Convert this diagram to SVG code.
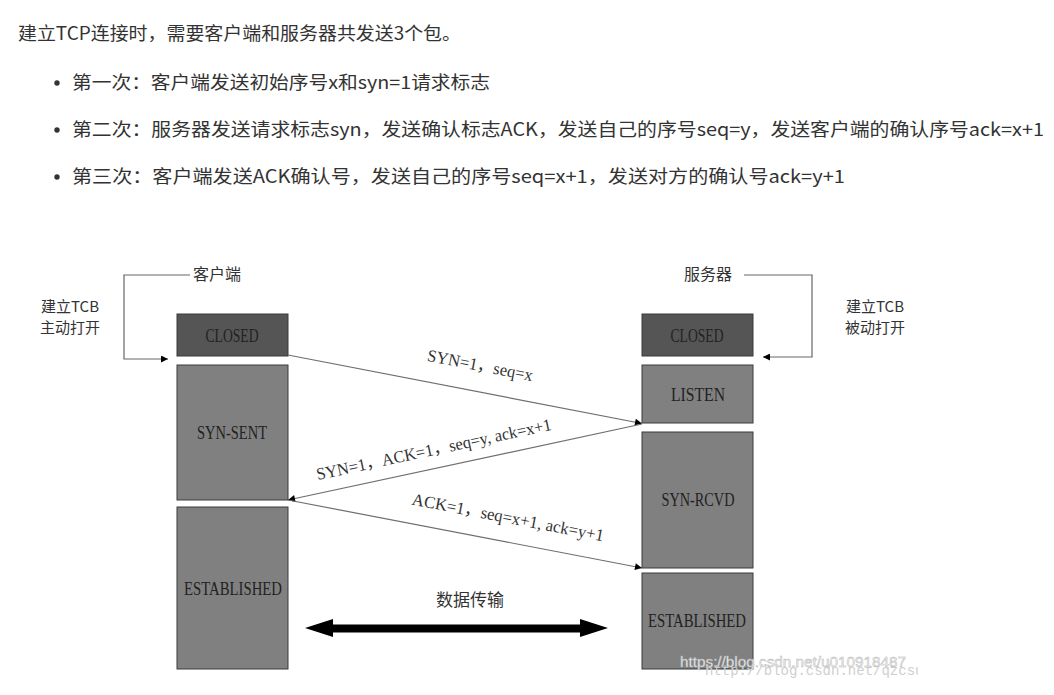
<svg xmlns="http://www.w3.org/2000/svg" width="1054" height="695" viewBox="0 0 1054 695">
<style>
.intro{font-family:"Noto Sans CJK SC","Noto Sans",sans-serif;font-size:18px;fill:#333}
.box{stroke:#3a3a3a;stroke-width:1}
.closed{fill:#555555}
.state{fill:#808080}
.lbl{font-family:"Liberation Serif","Noto Sans CJK SC",serif;font-size:19px;fill:#222;text-anchor:middle}
.msg{font-family:"Liberation Serif","Noto Sans CJK SC",serif;font-size:17px;fill:#333;text-anchor:middle}
.cn{font-family:"Noto Sans CJK SC",sans-serif;font-size:16px;fill:#333}
.cnm{font-family:"Noto Sans CJK SC","Liberation Serif",sans-serif;font-size:15px;fill:#333;text-anchor:middle}
.line{stroke:#6e6e6e;stroke-width:1.2;fill:none}
.bracket{stroke:#666;stroke-width:1.2;fill:none}
</style>
<defs>
<marker id="ah" viewBox="0 0 10 10" refX="10" refY="5" markerWidth="8" markerHeight="7" markerUnits="userSpaceOnUse" orient="auto">
<path d="M0,0 L10,5 L0,10 z" fill="#000"/>
</marker>
<clipPath id="clipd"><rect x="0" y="0" width="918" height="695"/></clipPath>
</defs>
<rect width="1054" height="695" fill="#fff"/>
<g id="intro">
<text class="intro" x="18" y="40" textLength="443" lengthAdjust="spacingAndGlyphs">建立TCP连接时，需要客户端和服务器共发送3个包。</text>
<circle cx="57" cy="83" r="2.7" fill="#333"/>
<text class="intro" x="72" y="89" textLength="418" lengthAdjust="spacingAndGlyphs">第一次：客户端发送初始序号x和syn=1请求标志</text>
<circle cx="57" cy="130" r="2.7" fill="#333"/>
<text class="intro" x="72" y="136" textLength="972" lengthAdjust="spacingAndGlyphs">第二次：服务器发送请求标志syn，发送确认标志ACK，发送自己的序号seq=y，发送客户端的确认序号ack=x+1</text>
<circle cx="57" cy="177" r="2.7" fill="#333"/>
<text class="intro" x="72" y="183" textLength="773" lengthAdjust="spacingAndGlyphs">第三次：客户端发送ACK确认号，发送自己的序号seq=x+1，发送对方的确认号ack=y+1</text>
</g>
<g id="client-title"><text class="cn" x="193" y="280">客户端</text></g>
<g id="server-title"><text class="cn" x="684" y="280">服务器</text></g>
<g id="client-note">
<text class="cnm" x="70" y="312">建立TCB</text>
<text class="cnm" x="70" y="333">主动打开</text>
</g>
<g id="server-note">
<text class="cnm" x="875" y="312">建立TCB</text>
<text class="cnm" x="875" y="333">被动打开</text>
</g>
<g id="c-closed"><rect class="box closed" x="177" y="314" width="111" height="42"/><text class="lbl" x="232" y="341.5" textLength="53" lengthAdjust="spacingAndGlyphs">CLOSED</text></g>
<g id="c-synsent"><rect class="box state" x="177" y="365" width="111" height="135"/><text class="lbl" x="232" y="438.5" textLength="70" lengthAdjust="spacingAndGlyphs">SYN-SENT</text></g>
<g id="c-established"><rect class="box state" x="177" y="507" width="111" height="162"/><text class="lbl" x="233" y="594.5" textLength="98" lengthAdjust="spacingAndGlyphs">ESTABLISHED</text></g>
<g id="s-closed"><rect class="box closed" x="642" y="314" width="111" height="42"/><text class="lbl" x="697" y="341.5" textLength="53" lengthAdjust="spacingAndGlyphs">CLOSED</text></g>
<g id="s-listen"><rect class="box state" x="642" y="365" width="111" height="58"/><text class="lbl" x="698" y="400.5" textLength="54" lengthAdjust="spacingAndGlyphs">LISTEN</text></g>
<g id="s-synrcvd"><rect class="box state" x="642" y="432" width="111" height="136"/><text class="lbl" x="698" y="505.5" textLength="73" lengthAdjust="spacingAndGlyphs">SYN-RCVD</text></g>
<g id="s-established"><rect class="box state" x="642" y="573" width="111" height="96"/><text class="lbl" x="697" y="626.5" textLength="98" lengthAdjust="spacingAndGlyphs">ESTABLISHED</text></g>
<g id="connectors">
<polyline class="bracket" points="190,275 124,275 124,359 168,359" marker-end="url(#ah)"/>
<polyline class="bracket" points="744,275 812,275 812,357 763,357" marker-end="url(#ah)"/>
<line class="line" x1="288" y1="355" x2="642" y2="423.5" marker-end="url(#ah)"/>
<line class="line" x1="642" y1="424" x2="288" y2="500" marker-end="url(#ah)"/>
<line class="line" x1="288" y1="500" x2="642" y2="568" marker-end="url(#ah)"/>
<text class="msg" transform="rotate(10.9 480 366)" x="480" y="371" textLength="107" lengthAdjust="spacingAndGlyphs">SYN=1，seq=x</text>
<text class="msg" transform="rotate(-12.1 434 450)" x="434" y="455" textLength="240" lengthAdjust="spacingAndGlyphs">SYN=1，ACK=1，seq=y, ack=x+1</text>
<text class="msg" transform="rotate(10.9 508 518)" x="508" y="523" textLength="195" lengthAdjust="spacingAndGlyphs">ACK=1，seq=x+1, ack=y+1</text>
<polygon points="305,628 333,619 333,624.5 580,624.5 580,619 608,628 580,637 580,632.5 333,632.5 333,637" fill="#000"/>
<text class="cnm" style="font-size:17px" x="470" y="606">数据传输</text>
</g>
<g id="watermark">
<text x="705" y="675" clip-path="url(#clipd)" style="font-family:'Liberation Mono',monospace;font-size:14px;fill:#cfcfcf">http://blog.csdn.net/qzcsu</text>
<text x="680" y="667" style="font-family:'Liberation Sans',sans-serif;font-size:14px;fill:#f2f2f2;stroke:#b0b0b0;stroke-width:0.4" textLength="226" lengthAdjust="spacingAndGlyphs">https://blog.csdn.net/u010918487</text>
</g>
</svg>
